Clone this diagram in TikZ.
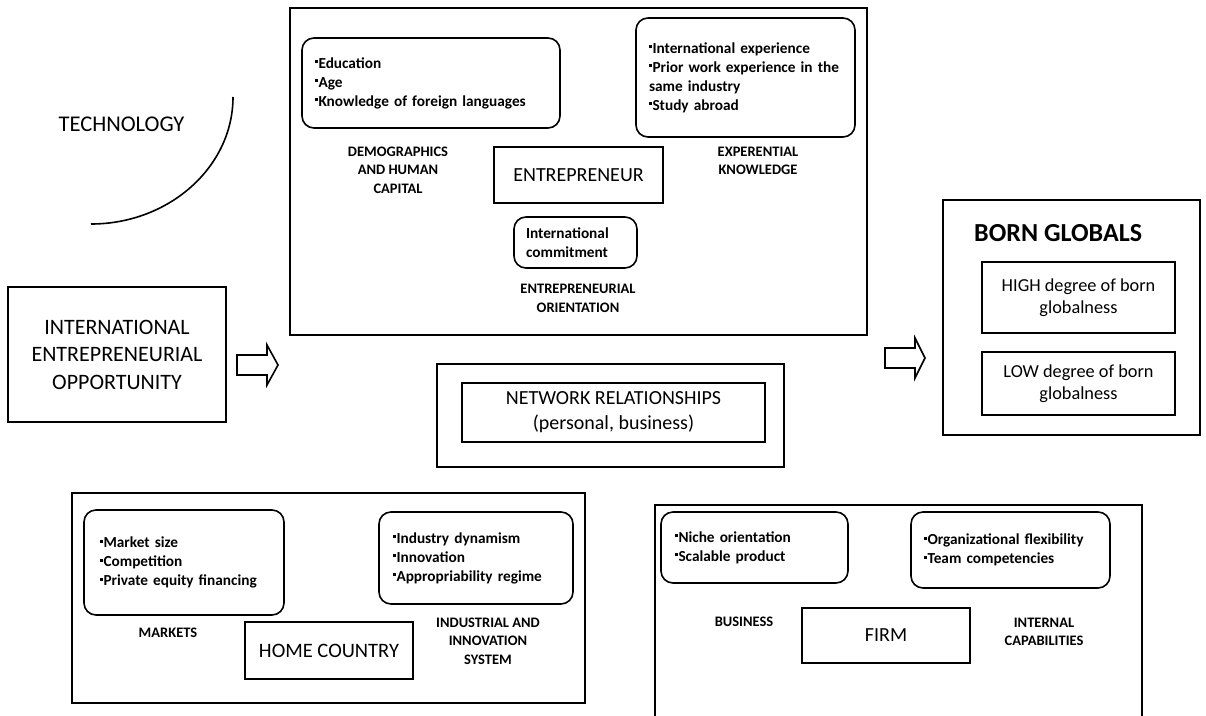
\documentclass[tikz,border=0pt]{standalone}
\usepackage{fontspec}
\setmainfont{Carlito}
\newcommand{\bul}{\raisebox{4.8pt}{\rule{2.9pt}{2.9pt}}\hspace{0.6pt}}
\begin{document}
\begin{tikzpicture}[x=1pt,y=-1pt,
  frame/.style={draw, line width=1.6pt, inner sep=0pt, outer sep=0pt},
  plainbox/.style={draw, line width=1.6pt, inner sep=0pt, outer sep=0pt, align=center},
  rbox/.style={draw, line width=1.6pt, rounded corners=12pt, outer sep=0pt, inner ysep=0pt, align=left,
     font=\bfseries\fontsize{15.3}{19}\selectfont},
  lbl/.style={inner sep=0pt, align=center, font=\bfseries\fontsize{14.5}{18.5}\selectfont},
  big/.style={font=\fontsize{20}{25}\selectfont},
  hollow/.style={draw, line width=1.6pt, fill=white, line join=miter}
]
\useasboundingbox (0,0) rectangle (1206,715);

% Technology
\node[inner sep=0pt, font=\fontsize{22.5}{26}\selectfont] (tech) at (121.5,124) {TECHNOLOGY};
\coordinate (arcA) at (233,97);
\coordinate (arcB) at (91,224);
\draw[line width=1.6pt] (arcA) .. controls (233,167) and (169,224) .. (arcB);

% International entrepreneurial opportunity
\node[plainbox, minimum width=218pt, minimum height=135pt, font=\fontsize{22}{27.5}\selectfont] (ieo) at (117,354.5)
  {INTERNATIONAL\\ENTREPRENEURIAL\\OPPORTUNITY};

% Arrow 1
\draw[hollow] (237,355) -- (267,355) -- (267,345) -- (278,365) -- (267,385) -- (267,375) -- (237,375) -- cycle;

% Entrepreneur frame
\node[frame, minimum width=577pt, minimum height=327pt] (entframe) at (578.5,171.5) {};
\node[rbox, text width=232pt, inner xsep=13pt, minimum height=90pt] (demo) at (431,83)
  {\bul Education\\\bul Age\\\bul Knowledge of foreign languages};
\node[rbox, text width=193pt, inner xsep=13pt, minimum height=119pt] (exp) at (745.5,77.5)
  {\bul International experience\\\bul Prior work experience in the\\same industry\\\bul Study abroad};
\node[lbl] (demolbl) at (398,170) {DEMOGRAPHICS\\AND HUMAN\\CAPITAL};
\node[lbl] (explbl) at (758,161) {EXPERENTIAL\\KNOWLEDGE};
\node[plainbox, minimum width=169pt, minimum height=56pt, big] (ent) at (578.5,175) {ENTREPRENEUR};
\node[rbox, text width=99pt, inner xsep=12pt, minimum height=51pt] (commit) at (575.5,242.5)
  {International\\commitment};
\node[lbl] (eolbl) at (578,298.5) {ENTREPRENEURIAL\\ORIENTATION};

% Network relationships
\node[frame, minimum width=347pt, minimum height=103pt] (netframe) at (610.5,415.5) {};
\node[plainbox, minimum width=303pt, minimum height=59pt, font=\fontsize{20}{25}\selectfont] (net) at (613.5,412.5)
  {NETWORK RELATIONSHIPS\\(personal, business)};

% Arrow 2
\draw[hollow] (885,348) -- (915,348) -- (915,338) -- (925,358) -- (915,378) -- (915,368) -- (885,368) -- cycle;

% Born globals
\node[frame, minimum width=257pt, minimum height=235pt] (bornframe) at (1071.5,317.5) {};
\node[anchor=west, inner sep=0pt, font=\bfseries\fontsize{26}{30}\selectfont] (born) at (974,233) {BORN GLOBALS};
\node[plainbox, minimum width=193pt, minimum height=71pt, font=\fontsize{18.3}{22}\selectfont] (high) at (1078.5,297.5)
  {HIGH degree of born\\globalness};
\node[plainbox, minimum width=193pt, minimum height=63pt, font=\fontsize{18.3}{22}\selectfont] (low) at (1078.5,383.5)
  {LOW degree of born\\globalness};

% Home country
\node[frame, minimum width=513pt, minimum height=210pt] (homeframe) at (328.5,598) {};
\node[rbox, text width=168pt, inner xsep=16pt, minimum height=105pt] (markets) at (184,562.5)
  {\bul Market size\\\bul Competition\\\bul Private equity financing};
\node[rbox, text width=166pt, inner xsep=14pt, minimum height=92pt] (indus) at (476,558)
  {\bul Industry dynamism\\\bul Innovation\\\bul Appropriability regime};
\node[lbl] (mktlbl) at (168,633) {MARKETS};
\node[plainbox, minimum width=168pt, minimum height=57pt, font=\fontsize{20.5}{25}\selectfont] (home) at (329,650.5) {HOME COUNTRY};
\node[lbl] (induslbl) at (488,641) {INDUSTRIAL AND\\INNOVATION\\SYSTEM};

% Firm
\node[frame, minimum width=487pt, minimum height=217pt] (firmframe) at (898.5,613.5) {};
\node[rbox, text width=159pt, inner xsep=14pt, minimum height=71pt] (niche) at (754.5,547.5)
  {\bul Niche orientation\\\bul Scalable product};
\node[rbox, text width=173pt, inner xsep=13pt, minimum height=76pt] (org) at (1010.5,550)
  {\bul Organizational flexibility\\\bul Team competencies};
\node[lbl] (buslbl) at (744,622) {BUSINESS};
\node[plainbox, minimum width=168pt, minimum height=55pt, font=\fontsize{20}{25}\selectfont] (firm) at (886,635.5) {FIRM};
\node[lbl] (intlbl) at (1044,632) {INTERNAL\\CAPABILITIES};
\end{tikzpicture}
\end{document}
